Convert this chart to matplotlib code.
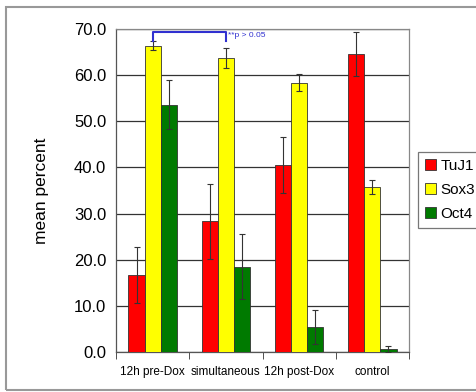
import numpy as np
import matplotlib.pyplot as plt
from matplotlib.patches import Rectangle

# data
groups = ['12h pre-Dox', 'simultaneous', '12h post-Dox', 'control']
series = ['TuJ1', 'Sox3', 'Oct4']
colors = ['#ff0000', '#ffff00', '#007a00']
tuj1 = [16.7, 28.3, 40.5, 64.6]
tuj1_err = [6.0, 8.2, 6.1, 4.7]
sox3 = [66.4, 63.7, 58.4, 35.8]
sox3_err = [0.9, 2.2, 1.8, 1.5]
oct4 = [53.6, 18.5, 5.4, 0.7]
oct4_err = [5.3, 7.0, 3.6, 0.6]
yticks = [0, 10, 20, 30, 40, 50, 60, 70]

plt.rcParams['font.family'] = ['Liberation Sans', 'DejaVu Sans']

fig = plt.figure(figsize=(4.77, 3.92), dpi=100)
# gray outer frame
fig.patches.append(Rectangle((6 / 477, 2 / 392), 475 / 477, 383 / 392,
                             transform=fig.transFigure, fill=False,
                             edgecolor='#999999', linewidth=1.5))
ax = fig.add_axes([116 / 477, 40 / 392, 293 / 477, 323 / 392])

x = np.arange(len(groups))
w = 0.22
vals = [tuj1, sox3, oct4]
errs = [tuj1_err, sox3_err, oct4_err]
for i in range(3):
    ax.bar(x + (i - 1) * w, vals[i], w, color=colors[i], edgecolor='#333333',
           linewidth=0.6, label=series[i], zorder=3)
    ax.errorbar(x + (i - 1) * w, vals[i], yerr=errs[i], fmt='none',
                ecolor='#333333', elinewidth=0.8, capsize=2.5, capthick=0.8, zorder=4)

ax.set_xlim(-0.5, len(groups) - 0.5)
ax.set_ylim(0, 70)
ax.set_yticks(yticks)
ax.set_yticklabels(['%.1f' % v for v in yticks], fontsize=12)
ax.tick_params(axis='y', length=0, pad=7)
ax.set_xticks(x)
ax.set_xticklabels(groups, fontsize=8.5)
ax.tick_params(axis='x', which='major', length=0, pad=10)
ax.set_xticks(np.arange(len(groups) + 1) - 0.5, minor=True)
ax.tick_params(axis='x', which='minor', length=5, color='#333333')
ax.yaxis.grid(True, color='#333333', linewidth=0.9, zorder=0)
for s in ax.spines.values():
    s.set_color('#555555')
    s.set_linewidth(0.9)
ax.spines['right'].set_color('#888888')
ax.spines['top'].set_color('#888888')
ax.set_ylabel('mean percent', fontsize=12.5, labelpad=18)

# significance bracket
blue = '#3030d0'
x1, x2 = x[0], x[1]
ax.plot([x1, x1, x2, x2], [67.3, 69.3, 69.3, 67.3], color=blue, lw=1.5,
        zorder=5, clip_on=False)
ax.text(x2 + 0.03, 68.5, '**p > 0.05', color=blue, fontsize=6, va='center')

leg = fig.legend(loc='upper left', bbox_to_anchor=(418 / 477, 1 - 152 / 392),
                 fontsize=11, frameon=True, fancybox=False, edgecolor='#555555',
                 handlelength=0.75, handleheight=0.75, handletextpad=0.25,
                 borderpad=0.45, labelspacing=0.65, borderaxespad=0)
leg.get_frame().set_linewidth(0.9)

fig.savefig('out.png', dpi=100)
